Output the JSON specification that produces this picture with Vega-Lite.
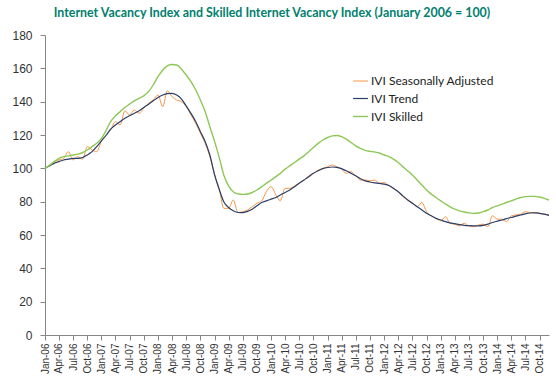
{
  "$schema": "https://vega.github.io/schema/vega-lite/v6.json",
  "width": 504,
  "height": 300,
  "autosize": {"type": "none"},
  "padding": {"left": 45, "top": 35, "right": 7, "bottom": 53},
  "background": "white",
  "title": {
    "text": "Internet Vacancy Index and Skilled Internet Vacancy Index (January 2006 = 100)",
    "font": "Lato",
    "fontSize": 12.4,
    "fontWeight": "bold",
    "color": "#00806E",
    "anchor": "middle",
    "offset": 10,
    "dx": -25
  },
  "config": {"view": {"stroke": null}},
  "data": {
    "values": [
      {"d":"2006-01","sa":100,"tr":100,"sk":100},
      {"d":"2006-02","sa":102,"tr":101.5,"sk":102},
      {"d":"2006-03","sa":103.5,"tr":103,"sk":104},
      {"d":"2006-04","sa":105,"tr":104,"sk":106},
      {"d":"2006-05","sa":106,"tr":105,"sk":107},
      {"d":"2006-06","sa":110,"tr":105.5,"sk":107.5},
      {"d":"2006-07","sa":105,"tr":106,"sk":108},
      {"d":"2006-08","sa":107,"tr":106,"sk":108.5},
      {"d":"2006-09","sa":105.5,"tr":106.5,"sk":109.5},
      {"d":"2006-10","sa":113,"tr":108,"sk":111},
      {"d":"2006-11","sa":111,"tr":110,"sk":113},
      {"d":"2006-12","sa":110,"tr":113,"sk":115},
      {"d":"2007-01","sa":116.5,"tr":116.5,"sk":118},
      {"d":"2007-02","sa":120,"tr":120,"sk":123},
      {"d":"2007-03","sa":123,"tr":123.5,"sk":128},
      {"d":"2007-04","sa":128,"tr":126,"sk":131.5},
      {"d":"2007-05","sa":126,"tr":128,"sk":134},
      {"d":"2007-06","sa":134.5,"tr":130,"sk":136.5},
      {"d":"2007-07","sa":132,"tr":131.5,"sk":138.5},
      {"d":"2007-08","sa":135,"tr":133,"sk":140.5},
      {"d":"2007-09","sa":133,"tr":134.5,"sk":142},
      {"d":"2007-10","sa":136,"tr":136.5,"sk":143.5},
      {"d":"2007-11","sa":139,"tr":138.5,"sk":146},
      {"d":"2007-12","sa":141,"tr":140.5,"sk":150},
      {"d":"2008-01","sa":144,"tr":142.5,"sk":155},
      {"d":"2008-02","sa":137,"tr":144,"sk":159},
      {"d":"2008-03","sa":146.5,"tr":144.8,"sk":161.5},
      {"d":"2008-04","sa":143,"tr":145,"sk":162.3},
      {"d":"2008-05","sa":141,"tr":144,"sk":162},
      {"d":"2008-06","sa":140,"tr":141.5,"sk":159.5},
      {"d":"2008-07","sa":137,"tr":137.5,"sk":156},
      {"d":"2008-08","sa":132,"tr":133,"sk":152},
      {"d":"2008-09","sa":127,"tr":128,"sk":147},
      {"d":"2008-10","sa":121,"tr":122,"sk":141},
      {"d":"2008-11","sa":115,"tr":116,"sk":134},
      {"d":"2008-12","sa":107,"tr":108,"sk":125},
      {"d":"2009-01","sa":96,"tr":96,"sk":116},
      {"d":"2009-02","sa":87,"tr":87,"sk":106},
      {"d":"2009-03","sa":76,"tr":80,"sk":96},
      {"d":"2009-04","sa":76,"tr":76.5,"sk":89.5},
      {"d":"2009-05","sa":81,"tr":74.5,"sk":86},
      {"d":"2009-06","sa":73.5,"tr":73.5,"sk":84.7},
      {"d":"2009-07","sa":74,"tr":73.4,"sk":84.4},
      {"d":"2009-08","sa":75,"tr":74.2,"sk":84.6},
      {"d":"2009-09","sa":77,"tr":75.5,"sk":85.5},
      {"d":"2009-10","sa":79,"tr":77.5,"sk":87},
      {"d":"2009-11","sa":80.5,"tr":79.5,"sk":89},
      {"d":"2009-12","sa":86,"tr":80.5,"sk":91},
      {"d":"2010-01","sa":89,"tr":81.5,"sk":93},
      {"d":"2010-02","sa":84,"tr":82.5,"sk":95},
      {"d":"2010-03","sa":80.5,"tr":84,"sk":97},
      {"d":"2010-04","sa":88,"tr":85.5,"sk":99.5},
      {"d":"2010-05","sa":88,"tr":87,"sk":101.5},
      {"d":"2010-06","sa":89.5,"tr":89,"sk":103.5},
      {"d":"2010-07","sa":91,"tr":91,"sk":105.5},
      {"d":"2010-08","sa":93,"tr":93,"sk":107.5},
      {"d":"2010-09","sa":95.5,"tr":95,"sk":110},
      {"d":"2010-10","sa":97,"tr":97,"sk":112.5},
      {"d":"2010-11","sa":99,"tr":98.5,"sk":115},
      {"d":"2010-12","sa":100,"tr":99.8,"sk":117},
      {"d":"2011-01","sa":101,"tr":100.5,"sk":118.5},
      {"d":"2011-02","sa":102,"tr":100.8,"sk":119.5},
      {"d":"2011-03","sa":101,"tr":100.6,"sk":119.7},
      {"d":"2011-04","sa":99.5,"tr":99.8,"sk":119},
      {"d":"2011-05","sa":97,"tr":98.5,"sk":117.5},
      {"d":"2011-06","sa":98,"tr":97,"sk":115.5},
      {"d":"2011-07","sa":95.5,"tr":95.5,"sk":113.5},
      {"d":"2011-08","sa":93,"tr":93.8,"sk":112},
      {"d":"2011-09","sa":93,"tr":92.5,"sk":110.8},
      {"d":"2011-10","sa":92.5,"tr":91.8,"sk":110.2},
      {"d":"2011-11","sa":93,"tr":91.3,"sk":109.8},
      {"d":"2011-12","sa":91,"tr":91,"sk":109.2},
      {"d":"2012-01","sa":91.5,"tr":90.5,"sk":108},
      {"d":"2012-02","sa":89.5,"tr":89.7,"sk":107},
      {"d":"2012-03","sa":88,"tr":88,"sk":105.5},
      {"d":"2012-04","sa":86,"tr":86,"sk":103.5},
      {"d":"2012-05","sa":83,"tr":83.5,"sk":101},
      {"d":"2012-06","sa":81,"tr":81,"sk":98.5},
      {"d":"2012-07","sa":79.5,"tr":79,"sk":96},
      {"d":"2012-08","sa":77,"tr":77,"sk":93},
      {"d":"2012-09","sa":79.5,"tr":75,"sk":90},
      {"d":"2012-10","sa":74,"tr":73,"sk":87},
      {"d":"2012-11","sa":71.5,"tr":71.5,"sk":84.5},
      {"d":"2012-12","sa":70,"tr":70,"sk":82.5},
      {"d":"2013-01","sa":68.5,"tr":69,"sk":80.5},
      {"d":"2013-02","sa":71,"tr":68,"sk":78.5},
      {"d":"2013-03","sa":67,"tr":67.3,"sk":77},
      {"d":"2013-04","sa":66.5,"tr":66.8,"sk":75.5},
      {"d":"2013-05","sa":65.5,"tr":66.2,"sk":74.5},
      {"d":"2013-06","sa":67,"tr":65.8,"sk":73.8},
      {"d":"2013-07","sa":65.5,"tr":65.6,"sk":73.3},
      {"d":"2013-08","sa":65,"tr":65.5,"sk":73},
      {"d":"2013-09","sa":66,"tr":65.5,"sk":73.2},
      {"d":"2013-10","sa":66.5,"tr":65.8,"sk":74},
      {"d":"2013-11","sa":65,"tr":66.5,"sk":75},
      {"d":"2013-12","sa":71.5,"tr":67.5,"sk":76.5},
      {"d":"2014-01","sa":69.5,"tr":68.3,"sk":77.5},
      {"d":"2014-02","sa":69.5,"tr":69,"sk":78.5},
      {"d":"2014-03","sa":68,"tr":69.8,"sk":79.5},
      {"d":"2014-04","sa":71.5,"tr":70.5,"sk":80.5},
      {"d":"2014-05","sa":72,"tr":71.3,"sk":81.5},
      {"d":"2014-06","sa":72.5,"tr":72,"sk":82.5},
      {"d":"2014-07","sa":74,"tr":72.7,"sk":83},
      {"d":"2014-08","sa":73.5,"tr":73.2,"sk":83.2},
      {"d":"2014-09","sa":73.5,"tr":73.3,"sk":83.2},
      {"d":"2014-10","sa":73,"tr":73,"sk":82.8},
      {"d":"2014-11","sa":72.5,"tr":72.5,"sk":82},
      {"d":"2014-12","sa":72,"tr":71.8,"sk":81}
    ]
  },
  "transform": [
    {"fold": ["sa", "tr", "sk"], "as": ["key", "value"]},
    {"calculate": "datum.key === 'sa' ? 'IVI Seasonally Adjusted' : datum.key === 'tr' ? 'IVI Trend' : 'IVI Skilled'", "as": "series"}
  ],
  "mark": {"type": "line", "interpolate": "monotone"},
  "encoding": {
    "x": {
      "field": "d",
      "type": "temporal",
      "timeUnit": "utcyearmonth",
      "scale": {"domain": [{"year": 2006, "month": 1, "date": 1, "utc": true}, {"year": 2014, "month": 12, "date": 1, "utc": true}], "nice": false},
      "axis": {
        "title": null,
        "format": "%b-%y",
        "tickCount": {"interval": "month", "step": 3},
        "labelAngle": -90,
        "labelAlign": "right",
        "labelBaseline": "middle",
        "labelFont": "Liberation Sans",
        "labelFontSize": 10,
        "labelColor": "#333333",
        "labelPadding": 3,
        "labelOverlap": false,
        "labelFlush": false,
        "grid": false,
        "domainColor": "#868686",
        "tickColor": "#868686",
        "tickSize": 5
      }
    },
    "y": {
      "field": "value",
      "type": "quantitative",
      "scale": {"domain": [0, 180], "nice": false},
      "axis": {
        "title": null,
        "values": [0, 20, 40, 60, 80, 100, 120, 140, 160, 180],
        "grid": false,
        "labelFont": "Liberation Sans",
        "labelFontSize": 12,
        "labelColor": "#333333",
        "labelPadding": 8,
        "domainColor": "#868686",
        "tickColor": "#868686",
        "tickSize": 5
      }
    },
    "color": {
      "field": "series",
      "type": "nominal",
      "scale": {
        "domain": ["IVI Seasonally Adjusted", "IVI Trend", "IVI Skilled"],
        "range": ["#F79646", "#2B3F6B", "#8DC856"]
      },
      "legend": {
        "title": null,
        "orient": "none",
        "legendX": 307,
        "legendY": 38,
        "symbolType": "stroke",
        "symbolSize": 220,
        "labelFont": "Lato",
        "labelFontSize": 12,
        "labelColor": "#222222",
        "rowPadding": 3,
        "labelOffset": 2
      }
    },
    "strokeWidth": {
      "field": "series",
      "type": "nominal",
      "scale": {"domain": ["IVI Seasonally Adjusted", "IVI Trend", "IVI Skilled"], "range": [1, 1.4, 1]},
      "legend": null
    }
  }
}
